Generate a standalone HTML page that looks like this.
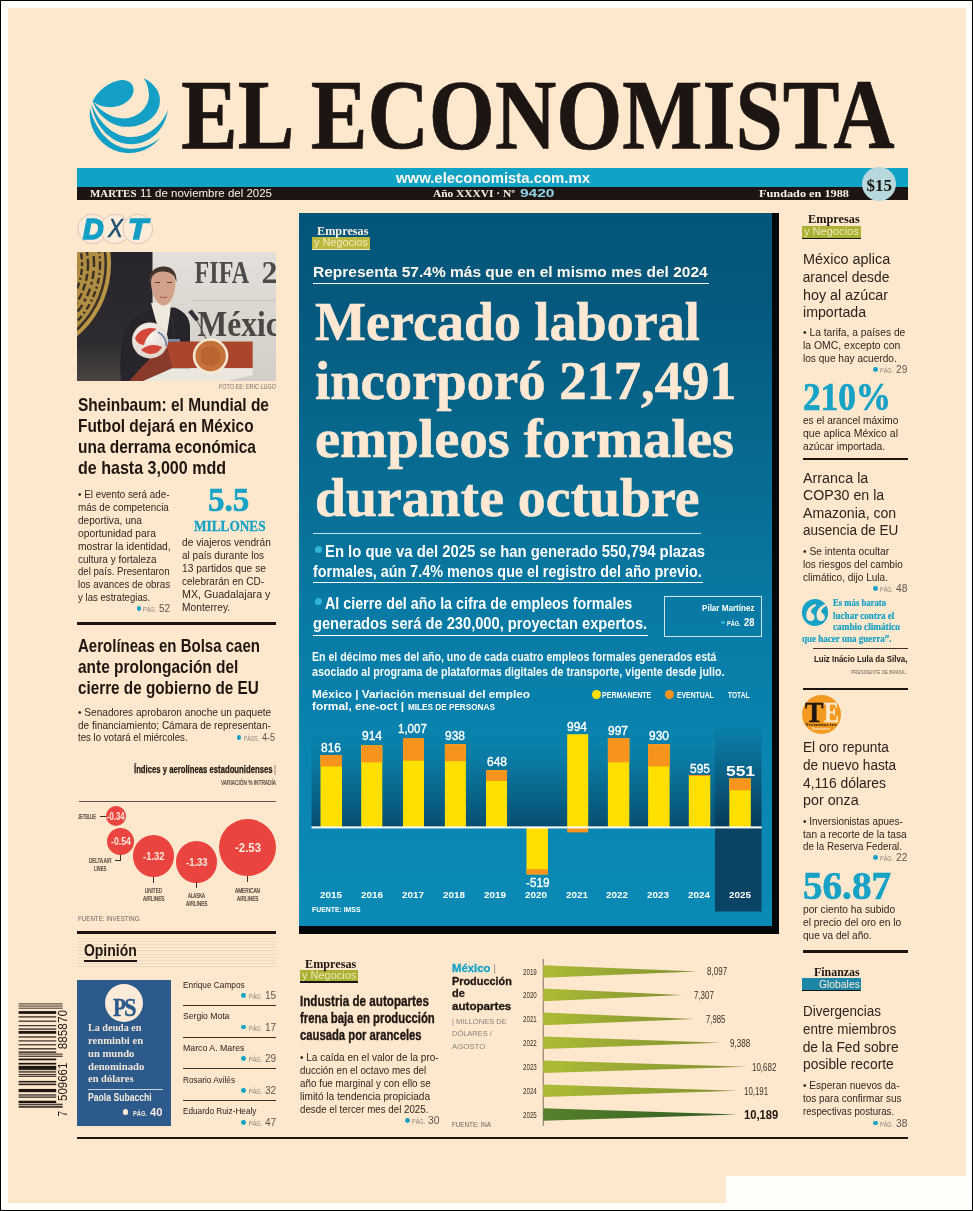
<!DOCTYPE html><html lang="es"><head><meta charset="utf-8"><title>El Economista</title><style>

html,body{margin:0;padding:0;}
body{width:973px;height:1211px;position:relative;overflow:hidden;background:#fffefb;}
.t{position:absolute;white-space:pre;line-height:1;transform-origin:0 0;display:block;}
.bl{display:inline-block;width:0;height:0;}
.r{position:absolute;}
.dot{position:absolute;border-radius:50%;}
svg{position:absolute;overflow:visible;}
svg text{white-space:pre;}


.frame{position:absolute;left:0;top:0;width:971px;height:1209px;border:1px solid #000;background:#fffefb;}
.paper{position:absolute;left:8px;top:8px;width:958px;height:1195px;background:#fde7cd;}
.notch{position:absolute;left:726px;top:1176px;width:245px;height:33px;background:#fffefb;}
.hr{position:absolute;background:#1d1512;}
.waves{background:repeating-linear-gradient(180deg, rgba(120,110,100,0.0) 0, rgba(120,110,100,0.0) 1.6px, rgba(120,110,100,0.11) 1.6px, rgba(120,110,100,0.11) 2.6px, rgba(120,110,100,0) 2.6px, rgba(120,110,100,0) 3.2px);}

</style></head><body>
<div class="frame"></div><div class="paper"></div><div class="notch"></div>
<div class="r" style="left:77px;top:168.4px;width:831px;height:18.5px;background:#11a3c6;"></div>
<div class="r" style="left:77px;top:186.6px;width:831px;height:13.4px;background:#1d1512;"></div>
<div class="dot" style="left:862px;top:167px;width:34px;height:34px;background:#b7d8dc"></div>
<div class="dot" style="left:136.6px;top:605.8px;width:4.8px;height:4.8px;background:#17a2c6"></div>
<div class="r" style="left:77px;top:622px;width:199px;height:2.5px;background:#1d1512;"></div>
<div class="dot" style="left:236.6px;top:735.4px;width:4.8px;height:4.8px;background:#17a2c6"></div>
<div class="r" style="left:79px;top:800.5px;width:197px;height:0.8px;background:#5d544e;"></div>
<div class="r" style="left:77px;top:931.2px;width:199px;height:2.5px;background:#1d1512;"></div>
<div class="dot" style="left:105.7px;top:806.0px;width:20.4px;height:20.4px;background:#e9443f"></div>
<div class="dot" style="left:107.3px;top:827.7px;width:27.2px;height:27.2px;background:#e9443f"></div>
<div class="dot" style="left:132.9px;top:835.4px;width:41.6px;height:41.6px;background:#e9443f"></div>
<div class="dot" style="left:175.7px;top:840.8px;width:41.8px;height:41.8px;background:#e9443f"></div>
<div class="dot" style="left:218.7px;top:818.9px;width:57.6px;height:57.6px;background:#e9443f"></div>
<div class="r" style="left:99.5px;top:815.8px;width:6.5px;height:0.8px;background:#3a302a;"></div>
<div class="r" style="left:115.2px;top:860.2px;width:5px;height:0.8px;background:#3a302a;"></div>
<div class="r" style="left:119.8px;top:854.5px;width:0.8px;height:6.3px;background:#3a302a;"></div>
<div class="r" style="left:153.3px;top:877px;width:0.8px;height:6px;background:#3a302a;"></div>
<div class="r" style="left:196.2px;top:882px;width:0.8px;height:6px;background:#3a302a;"></div>
<div class="r" style="left:247.1px;top:876px;width:0.8px;height:6px;background:#3a302a;"></div>
<div class="r waves" style="left:77px;top:936px;width:199px;height:33px"></div>
<div class="r" style="left:84px;top:959.8px;width:53px;height:2.2px;background:#1d1512;"></div>
<div class="r" style="left:77.4px;top:980px;width:93.6px;height:146px;background:#2b5a8b;"></div>
<div class="dot" style="left:105px;top:983.8px;width:38.4px;height:38.4px;background:#fdebd9"></div>
<div class="r" style="left:87.6px;top:1088.5px;width:75px;height:0.8px;background:#c9d3df;"></div>
<div class="dot" style="left:123.2px;top:1109.4px;width:5.2px;height:5.2px;background:#fdebd9"></div>
<div class="dot" style="left:241.3px;top:992.9px;width:4.8px;height:4.8px;background:#17a2c6"></div>
<div class="dot" style="left:241.3px;top:1024.5px;width:4.8px;height:4.8px;background:#17a2c6"></div>
<div class="dot" style="left:241.3px;top:1056.2px;width:4.8px;height:4.8px;background:#17a2c6"></div>
<div class="dot" style="left:241.3px;top:1087.9px;width:4.8px;height:4.8px;background:#17a2c6"></div>
<div class="dot" style="left:241.3px;top:1120.2px;width:4.8px;height:4.8px;background:#17a2c6"></div>
<div class="r" style="left:182.6px;top:1005.3px;width:93.4px;height:0.8px;background:#3a2f29;"></div>
<div class="r" style="left:182.6px;top:1037.2px;width:93.4px;height:0.8px;background:#3a2f29;"></div>
<div class="r" style="left:182.6px;top:1068.4px;width:93.4px;height:0.8px;background:#3a2f29;"></div>
<div class="r" style="left:182.6px;top:1100px;width:93.4px;height:0.8px;background:#3a2f29;"></div>
<div class="r" style="left:77px;top:1136.8px;width:831px;height:2.5px;background:#1d1512;"></div>
<svg width="973" height="1211" style="left:0;top:0" viewBox="0 0 973 1211"><g fill="#1d1512"><rect x="18.6" y="1003.37" width="44.0" height="1.07" opacity="0.8"/><rect x="18.6" y="1005.52" width="44.0" height="1.07" opacity="0.8"/><rect x="18.6" y="1007.67" width="44.0" height="1.07" opacity="0.8"/><rect x="18.6" y="1011.10" width="37.6" height="2.79" opacity="1"/><rect x="18.6" y="1016.26" width="37.6" height="1.29" opacity="0.9"/><rect x="18.6" y="1020.55" width="37.6" height="1.29" opacity="0.85"/><rect x="18.6" y="1025.06" width="37.6" height="1.18" opacity="0.85"/><rect x="18.6" y="1028.28" width="37.6" height="1.72" opacity="0.7"/><rect x="18.6" y="1030.97" width="37.6" height="2.79" opacity="1"/><rect x="18.6" y="1036.34" width="37.6" height="1.29" opacity="0.9"/><rect x="18.6" y="1040.31" width="37.6" height="1.18" opacity="0.9"/><rect x="18.6" y="1044.17" width="37.6" height="1.18" opacity="0.9"/><rect x="18.6" y="1048.15" width="37.6" height="1.29" opacity="0.9"/><rect x="18.6" y="1051.37" width="37.6" height="1.61" opacity="0.8"/><rect x="18.6" y="1053.51" width="44.0" height="1.18" opacity="0.8"/><rect x="18.6" y="1055.66" width="44.0" height="1.29" opacity="0.8"/><rect x="18.6" y="1058.56" width="37.6" height="1.72" opacity="1"/><rect x="18.6" y="1062.85" width="37.6" height="1.72" opacity="1"/><rect x="18.6" y="1065.86" width="37.6" height="3.97" opacity="1"/><rect x="18.6" y="1070.69" width="37.6" height="2.15" opacity="0.65"/><rect x="18.6" y="1073.91" width="37.6" height="1.18" opacity="0.85"/><rect x="18.6" y="1075.74" width="37.6" height="1.18" opacity="0.85"/><rect x="18.6" y="1080.89" width="37.6" height="1.61" opacity="0.95"/><rect x="18.6" y="1083.58" width="37.6" height="1.61" opacity="0.95"/><rect x="18.6" y="1088.94" width="37.6" height="3.22" opacity="1"/><rect x="18.6" y="1094.31" width="37.6" height="1.29" opacity="0.9"/><rect x="18.6" y="1096.46" width="37.6" height="1.29" opacity="0.9"/><rect x="18.6" y="1100.75" width="37.6" height="2.25" opacity="1"/><rect x="18.6" y="1103.65" width="44.0" height="1.50" opacity="0.8"/><rect x="18.6" y="1105.80" width="44.0" height="2.04" opacity="0.8"/></g><g font-family="'Liberation Sans',sans-serif" font-size="12" fill="#1d1512"><text transform="translate(67,1116.6) rotate(-90)" textLength="5.6" lengthAdjust="spacingAndGlyphs">7</text><text transform="translate(67,1100.9) rotate(-90)" textLength="38.2" lengthAdjust="spacingAndGlyphs">509661</text><text transform="translate(67,1049.3) rotate(-90)" textLength="39.3" lengthAdjust="spacingAndGlyphs">885870</text></g></svg>
<div class="r" style="left:299px;top:213px;width:480px;height:720.5px;background:#050608"></div>
<div class="r" style="left:299px;top:213px;width:473px;height:713px;background:linear-gradient(180deg,#03557a 0%,#06587d 12%,#07698f 33%,#0879a3 54%,#0a84b0 75%,#0b8ab6 100%)"></div>
<div class="r" style="left:311.5px;top:237.1px;width:58.2px;height:11.6px;background:#bbb93e;"></div>
<div class="r" style="left:311.5px;top:248.7px;width:58.2px;height:1.4px;background:#f3ead0;"></div>
<div class="r" style="left:313.3px;top:283px;width:395.4px;height:1px;background:#fff;"></div>
<div class="r" style="left:313.3px;top:533.3px;width:387.7px;height:1px;background:#bfe3ef;"></div>
<div class="dot" style="left:315.2px;top:545.5px;width:7px;height:7px;background:#2fb6d8"></div>
<div class="r" style="left:313.3px;top:582.4px;width:389.5px;height:1px;background:#fff;"></div>
<div class="dot" style="left:315.2px;top:598.2px;width:7px;height:7px;background:#2fb6d8"></div>
<div class="r" style="left:313.3px;top:635.1px;width:334.7px;height:1px;background:#fff;"></div>
<div class="r" style="left:663.8px;top:596.3px;width:96.2px;height:39.2px;border:1px solid #cfe6ee;box-sizing:content-box"></div>
<div class="dot" style="left:721.4px;top:620.7px;width:3.2px;height:3.2px;background:#2fb6d8"></div>
<div class="dot" style="left:591.5px;top:689.5px;width:9px;height:9px;background:#ffe000"></div>
<div class="dot" style="left:665.1px;top:689.5px;width:9px;height:9px;background:#f7941d"></div>
<svg width="973" height="1211" style="left:0;top:0" viewBox="0 0 973 1211"><defs><linearGradient id="sh" x1="0" y1="0" x2="0" y2="1"><stop offset="0" stop-color="#06324e" stop-opacity="0"/><stop offset="0.3" stop-color="#06324e" stop-opacity="0.1"/><stop offset="1" stop-color="#06324e" stop-opacity="0.66"/></linearGradient><linearGradient id="dk" x1="0" y1="0" x2="0" y2="1"><stop offset="0" stop-color="#07324e" stop-opacity="0.0"/><stop offset="0.35" stop-color="#07324e" stop-opacity="0.3"/><stop offset="1" stop-color="#07324e" stop-opacity="0.9"/></linearGradient></defs><rect x="311.5" y="728" width="403.5" height="99" fill="url(#sh)"/><rect x="715" y="722" width="46.5" height="105" fill="url(#dk)"/><rect x="715" y="827" width="46.5" height="84.5" fill="#0a4364"/><rect x="320.5" y="755" width="21.5" height="72.4" fill="#ffdf00"/><rect x="320.5" y="755" width="21.5" height="11.4" fill="#f7941d"/><rect x="361.2" y="745.3" width="21.1" height="82.1" fill="#ffdf00"/><rect x="361.2" y="745.3" width="21.1" height="17.0" fill="#f7941d"/><rect x="403" y="738" width="21.0" height="89.4" fill="#ffdf00"/><rect x="403" y="738" width="21.0" height="22.7" fill="#f7941d"/><rect x="444.9" y="744.2" width="21.0" height="83.2" fill="#ffdf00"/><rect x="444.9" y="744.2" width="21.0" height="17.0" fill="#f7941d"/><rect x="486" y="770.2" width="21.0" height="57.2" fill="#ffdf00"/><rect x="486" y="770.2" width="21.0" height="10.8" fill="#f7941d"/><rect x="567.2" y="734.2" width="21.0" height="93.2" fill="#ffdf00"/><rect x="607.9" y="738" width="21.4" height="89.4" fill="#ffdf00"/><rect x="607.9" y="738" width="21.4" height="24.3" fill="#f7941d"/><rect x="648.1" y="744.2" width="21.5" height="83.2" fill="#ffdf00"/><rect x="648.1" y="744.2" width="21.5" height="22.2" fill="#f7941d"/><rect x="688.8" y="775" width="21.5" height="52.4" fill="#ffdf00"/><rect x="688.8" y="775" width="21.5" height="1.0" fill="#f7941d"/><rect x="729.3" y="778.4" width="21.5" height="49.0" fill="#ffdf00"/><rect x="729.3" y="778.4" width="21.5" height="11.8" fill="#f7941d"/><rect x="526.5" y="827.4" width="21.5" height="47.0" fill="#ffdf00"/><rect x="526.5" y="869.2" width="21.5" height="5.2" fill="#f7941d"/><rect x="567.2" y="827.4" width="21" height="5" fill="#f7941d"/><rect x="311.5" y="826.4" width="450.2" height="2" fill="#fff"/></svg>
<div class="r" style="left:299.5px;top:970px;width:58.3px;height:11.4px;background:#a9b233;"></div>
<div class="r" style="left:299.5px;top:981.4px;width:58.3px;height:1.6px;background:#1d1512;"></div>
<div class="dot" style="left:405.2px;top:1118.3px;width:4.8px;height:4.8px;background:#17a2c6"></div>
<svg width="973" height="1211" style="left:0;top:0" viewBox="0 0 973 1211"><defs><linearGradient id="ol" x1="0" y1="0" x2="1" y2="0"><stop offset="0" stop-color="#adbb35"/><stop offset="1" stop-color="#7f9030"/></linearGradient><linearGradient id="gr" x1="0" y1="0" x2="1" y2="0"><stop offset="0" stop-color="#56802b"/><stop offset="1" stop-color="#2f5a20"/></linearGradient></defs><rect x="542.8" y="959" width="0.8" height="167" fill="#5d544e"/><polygon points="543.2,965.2 697.3,971.5 543.2,977.8" fill="url(#ol)"/><polygon points="543.2,988.6 681.9,994.9 543.2,1001.2" fill="url(#ol)"/><polygon points="543.2,1012.6 694.3,1018.9 543.2,1025.2" fill="url(#ol)"/><polygon points="543.2,1036.4 720.5,1042.7 543.2,1049.0" fill="url(#ol)"/><polygon points="543.2,1060.4 746.7,1066.7 543.2,1073.0" fill="url(#ol)"/><polygon points="543.2,1084.5 737.4,1090.8 543.2,1097.1" fill="url(#ol)"/><polygon points="543.2,1108.2 737.4,1114.5 543.2,1120.8" fill="url(#gr)"/></svg>
<div class="r" style="left:802.2px;top:226px;width:58.7px;height:11.9px;background:#a9b233;"></div>
<div class="r" style="left:802.2px;top:237.9px;width:58.7px;height:1.6px;background:#1d1512;"></div>
<div class="dot" style="left:873.0px;top:367.0px;width:4.8px;height:4.8px;background:#17a2c6"></div>
<div class="r" style="left:802.7px;top:457.8px;width:105.3px;height:2.5px;background:#1d1512;"></div>
<div class="dot" style="left:873.0px;top:586.4px;width:4.8px;height:4.8px;background:#17a2c6"></div>
<div class="dot" style="left:801.8px;top:599.3px;width:26.4px;height:26.4px;background:#17a2c6"></div>
<div class="r" style="left:812.9px;top:647.6px;width:95.1px;height:0.8px;background:#3a2f29;"></div>
<div class="r" style="left:802.7px;top:687.8px;width:105.3px;height:2.5px;background:#1d1512;"></div>
<div class="dot" style="left:801.7px;top:694.8px;width:39.4px;height:39.4px;background:#f39a21"></div>
<div class="dot" style="left:873.0px;top:855.4px;width:4.8px;height:4.8px;background:#17a2c6"></div>
<div class="r" style="left:802.7px;top:950.4px;width:105.3px;height:2.5px;background:#1d1512;"></div>
<div class="r" style="left:802.2px;top:978.3px;width:58.8px;height:11.5px;background:#1b86a6;"></div>
<div class="r" style="left:802.2px;top:989.8px;width:58.8px;height:1.6px;background:#1d1512;"></div>
<div class="dot" style="left:873.0px;top:1120.5px;width:4.8px;height:4.8px;background:#17a2c6"></div>
<svg width="100" height="90" style="left:80px;top:70px" viewBox="0 0 973 876">
<g fill="#14a0c6">
<path d="M122 305 A383 383 0 0 1 400 98 C480 92 532 150 520 212 C505 300 400 362 300 362 C220 362 160 338 122 305Z"/>
<path d="M620 80 C725 130 792 220 776 325 C752 472 600 562 430 552 C300 545 170 440 122 305 C220 420 330 482 452 470 C580 455 682 340 670 230 C665 170 650 120 620 80Z"/>
<path d="M855 385 C832 582 680 722 500 722 C320 722 150 570 108 330 C190 520 330 652 500 652 C660 652 800 540 855 385Z"/>
<path d="M780 660 A383 383 0 0 1 98 370 C140 570 290 745 460 765 C580 778 700 730 780 660Z"/>
</g></svg>
<svg width="100" height="40" style="left:70px;top:209px" viewBox="0 0 100 40">
<g fill="#fdecd9" stroke="#cdb3a6" stroke-width="0.7"><circle cx="22.6" cy="20" r="14.8"/><circle cx="45.2" cy="20" r="14.8"/><circle cx="67.8" cy="20" r="14.8"/></g>
</svg>
<svg width="199" height="129" style="left:77px;top:252px;overflow:hidden" viewBox="0 0 199 129">
<defs>
<linearGradient id="wall" x1="0" y1="0" x2="0" y2="1"><stop offset="0" stop-color="#e3e0db"/><stop offset="0.5" stop-color="#dad7d1"/><stop offset="1" stop-color="#d2cec7"/></linearGradient>
<linearGradient id="dkw" x1="0" y1="0" x2="0" y2="1"><stop offset="0" stop-color="#27252b"/><stop offset="0.7" stop-color="#2e2c30"/><stop offset="1" stop-color="#4a4541"/></linearGradient>
<radialGradient id="ball" cx="0.45" cy="0.35" r="0.8"><stop offset="0" stop-color="#fbf6f0"/><stop offset="1" stop-color="#d9cdc4"/></radialGradient>
<clipPath id="pc"><rect x="0" y="0" width="199" height="129"/></clipPath>
</defs>
<g clip-path="url(#pc)">
<rect x="0" y="0" width="199" height="129" fill="url(#wall)"/>
<rect x="0" y="0" width="75.5" height="129" fill="url(#dkw)"/>
<circle cx="-60" cy="12" r="94" fill="#b99545"/>
<circle cx="-60" cy="12" r="90" fill="#3a3228"/>
<circle cx="-60" cy="12" r="87.5" fill="#b08d43"/>
<g fill="none" stroke="#3a3026">
<circle cx="-60" cy="12" r="83" stroke-width="2.4" stroke-dasharray="6 3 2 3"/>
<circle cx="-60" cy="12" r="77" stroke-width="2.4" stroke-dasharray="3 4 8 3"/>
<circle cx="-60" cy="12" r="71" stroke-width="2.4" stroke-dasharray="7 3"/>
<circle cx="-60" cy="12" r="65" stroke-width="2.4" stroke-dasharray="2 3 6 3"/>
<circle cx="-60" cy="12" r="59" stroke-width="2.4" stroke-dasharray="5 4"/>
</g>
<text x="117.6" y="31.3" font-family="'Liberation Serif',serif" font-weight="700" font-size="32" fill="#4d4b49" textLength="54.5" lengthAdjust="spacingAndGlyphs">FIFA</text>
<text x="184.6" y="31.3" font-family="'Liberation Serif',serif" font-weight="700" font-size="32" fill="#4d4b49">20</text>
<rect x="115" y="48" width="85" height="0.8" fill="#c6c2bc"/>
<text x="120.5" y="83.9" font-family="'Liberation Serif',serif" font-weight="700" font-size="35.5" fill="#4a4743" textLength="98" lengthAdjust="spacingAndGlyphs">México</text>
<!-- jacket -->
<path d="M44 129 C42 104 44 84 52 72 C58 64 68 60 76 55.5 L98 55.5 C108 60 113 66 113 76 L113 129 Z" fill="#27252b"/>
<!-- turtleneck -->
<path d="M74 51 L94 51 L93 62 L90 82 L84 84 L78 66 Z" fill="#efe8dc"/>
<!-- hair -->
<path d="M72 32 C71 19 79 14.5 87 14.5 C95 14.5 100 20 99.5 30 L97 24 C92 20 82 20 76 24 Z" fill="#43342c"/>
<!-- face -->
<path d="M74 30 C74 22 80 19.5 86.5 19.5 C93 19.5 98.5 23 98.5 31 C98.5 40 94 53.5 86.5 53.5 C79.5 53.5 74 40 74 30 Z" fill="#d2a189"/>
<path d="M78 30.5 h5 M90 30.5 h5" stroke="#5a4036" stroke-width="1.1"/>
<path d="M83 45 q3.5 1.6 7 0" stroke="#a0564a" stroke-width="1" fill="none"/>
<!-- mic -->
<path d="M111 60 L115 57.5 L122 67 L119 69.5 Z" fill="#343136"/>
<path d="M120 68 L130 89" stroke="#55504f" stroke-width="1" fill="none"/>
<path d="M95 66 L98 88" stroke="#3a3638" stroke-width="0.9" fill="none"/>
<!-- podium -->
<path d="M88.4 89.5 L175.7 89.5 L175.7 116.2 L95 116.2 Z" fill="#ab462d"/>
<path d="M88.4 89.5 L95 116.2 L66 129 L52 129 Z" fill="#8a3a29"/>
<path d="M95 116.2 L175.7 116.2 L175.7 123 L150 129 L66 129 Z" fill="#ebe6de"/>
<rect x="90" y="87" width="13" height="2.8" fill="#7b8aa0"/>
<!-- podium emblem -->
<circle cx="133.6" cy="104" r="17.8" fill="#f5e9d6"/>
<circle cx="133.6" cy="104" r="15.2" fill="#c4713a"/>
<circle cx="133.6" cy="104" r="10" fill="#b9652f"/>
<!-- ball -->
<circle cx="73" cy="88.4" r="18" fill="url(#ball)"/>
<path d="M58 86 C62 77 72 74 80 77 C74 80 69 85 67 93 C63 93 59 90 58 86 Z" fill="#d4483a"/>
<path d="M64 98 C70 92 79 92 85 95 C82 102 72 105 64 98 Z" fill="#d4483a"/>
<path d="M81 80 C87 83 90 89 89 94" stroke="#6a84ae" stroke-width="1.6" fill="none"/>
</g></svg>
<span class="t" style="left:181.00px;top:65.00px;font-family:'Liberation Serif',serif;font-size:100px;color:#1d1512;font-weight:700;-webkit-text-stroke:0.7px #1d1512;transform:scaleX(0.8494);">EL ECONOMISTA</span>
<span class="t" style="left:395.50px;top:169.90px;font-family:'Liberation Sans',sans-serif;font-size:15px;color:#fdf6ee;font-weight:700;transform:scaleX(0.9931);">www.eleconomista.com.mx</span>
<span class="t" style="left:90.00px;top:188.30px;font-family:'Liberation Serif',serif;font-size:10.8px;color:#fbf1e6;font-weight:700;transform:scaleX(1.0147);">MARTES</span>
<span class="t" style="left:140.00px;top:187.30px;font-family:'Liberation Sans',sans-serif;font-size:11.6px;color:#fbf1e6;transform:scaleX(0.9909);">11 de noviembre del 2025</span>
<span class="t" style="left:432.50px;top:188.30px;font-family:'Liberation Serif',serif;font-size:10.8px;color:#fbf1e6;font-weight:700;transform:scaleX(1.0559);">Año XXXVI · Nº</span>
<span class="t" style="left:519.50px;top:188.30px;font-family:'Liberation Sans',sans-serif;font-size:10.8px;color:#8fd6ea;font-weight:700;transform:scaleX(1.4356);">9420</span>
<span class="t" style="left:759.00px;top:188.30px;font-family:'Liberation Serif',serif;font-size:10.8px;color:#fbf1e6;font-weight:700;transform:scaleX(1.1363);">Fundado en 1988</span>
<span class="t" style="left:866.50px;top:176.50px;font-family:'Liberation Serif',serif;font-size:17px;color:#1d1512;font-weight:700;">$15</span>
<span class="t" style="left:219.00px;top:383.60px;font-family:'Liberation Sans',sans-serif;font-size:6.4px;color:#7a716b;transform:scaleX(0.8553);">FOTO EE: ERIC LUGO</span>
<span class="t" style="left:78.00px;top:397.20px;font-family:'Liberation Sans',sans-serif;font-size:17.8px;color:#1f1612;font-weight:700;transform:scaleX(0.8708);">Sheinbaum: el Mundial de</span>
<span class="t" style="left:78.00px;top:418.30px;font-family:'Liberation Sans',sans-serif;font-size:17.8px;color:#1f1612;font-weight:700;transform:scaleX(0.8669);">Futbol dejará en México</span>
<span class="t" style="left:78.00px;top:439.30px;font-family:'Liberation Sans',sans-serif;font-size:17.8px;color:#1f1612;font-weight:700;transform:scaleX(0.8696);">una derrama económica</span>
<span class="t" style="left:78.00px;top:459.90px;font-family:'Liberation Sans',sans-serif;font-size:17.8px;color:#1f1612;font-weight:700;transform:scaleX(0.9021);">de hasta 3,000 mdd</span>
<span class="t" style="left:78.00px;top:489.10px;font-family:'Liberation Sans',sans-serif;font-size:10.6px;color:#30261f;transform:scaleX(0.9286);">• El evento será ade-</span>
<span class="t" style="left:78.00px;top:502.00px;font-family:'Liberation Sans',sans-serif;font-size:10.6px;color:#30261f;transform:scaleX(0.9289);">más de competencia</span>
<span class="t" style="left:78.00px;top:514.90px;font-family:'Liberation Sans',sans-serif;font-size:10.6px;color:#30261f;transform:scaleX(0.9530);">deportiva, una</span>
<span class="t" style="left:78.00px;top:527.80px;font-family:'Liberation Sans',sans-serif;font-size:10.6px;color:#30261f;transform:scaleX(0.9737);">oportunidad para</span>
<span class="t" style="left:78.00px;top:540.60px;font-family:'Liberation Sans',sans-serif;font-size:10.6px;color:#30261f;transform:scaleX(0.9647);">mostrar la identidad,</span>
<span class="t" style="left:78.00px;top:553.50px;font-family:'Liberation Sans',sans-serif;font-size:10.6px;color:#30261f;transform:scaleX(0.9399);">cultura y fortaleza</span>
<span class="t" style="left:78.00px;top:566.40px;font-family:'Liberation Sans',sans-serif;font-size:10.6px;color:#30261f;transform:scaleX(0.9086);">del país. Presentaron</span>
<span class="t" style="left:78.00px;top:579.30px;font-family:'Liberation Sans',sans-serif;font-size:10.6px;color:#30261f;transform:scaleX(0.9189);">los avances de obras</span>
<span class="t" style="left:78.00px;top:592.20px;font-family:'Liberation Sans',sans-serif;font-size:10.6px;color:#30261f;transform:scaleX(0.9094);">y las estrategias.</span>
<span class="t" style="left:142.80px;top:606.80px;font-family:'Liberation Sans',sans-serif;font-size:6.5px;color:#8a8079;transform:scaleX(0.8362);">PÁG.</span>
<span class="t" style="left:158.80px;top:602.80px;font-family:'Liberation Sans',sans-serif;font-size:11.5px;color:#5d544e;transform:scaleX(0.8752);">52</span>
<span class="t" style="left:208.30px;top:482.50px;font-family:'Liberation Serif',serif;font-size:33.5px;color:#17a2c6;font-weight:700;-webkit-text-stroke:0.6px #17a2c6;transform:scaleX(0.9887);">5.5</span>
<span class="t" style="left:194.00px;top:519.00px;font-family:'Liberation Serif',serif;font-size:15px;color:#17a2c6;font-weight:700;-webkit-text-stroke:0.3px #17a2c6;transform:scaleX(0.8855);">MILLONES</span>
<span class="t" style="left:182.40px;top:537.00px;font-family:'Liberation Sans',sans-serif;font-size:10.6px;color:#30261f;transform:scaleX(0.9603);">de viajeros vendrán</span>
<span class="t" style="left:182.40px;top:549.90px;font-family:'Liberation Sans',sans-serif;font-size:10.6px;color:#30261f;transform:scaleX(0.9471);">al país durante los</span>
<span class="t" style="left:182.40px;top:562.80px;font-family:'Liberation Sans',sans-serif;font-size:10.6px;color:#30261f;transform:scaleX(0.9625);">13 partidos que se</span>
<span class="t" style="left:182.40px;top:575.70px;font-family:'Liberation Sans',sans-serif;font-size:10.6px;color:#30261f;transform:scaleX(0.9473);">celebrarán en CD-</span>
<span class="t" style="left:182.40px;top:588.60px;font-family:'Liberation Sans',sans-serif;font-size:10.6px;color:#30261f;transform:scaleX(1.0074);">MX, Guadalajara y</span>
<span class="t" style="left:182.40px;top:601.50px;font-family:'Liberation Sans',sans-serif;font-size:10.6px;color:#30261f;transform:scaleX(0.9647);">Monterrey.</span>
<span class="t" style="left:78.00px;top:637.70px;font-family:'Liberation Sans',sans-serif;font-size:17.8px;color:#1f1612;font-weight:700;transform:scaleX(0.8447);">Aerolíneas en Bolsa caen</span>
<span class="t" style="left:78.00px;top:658.50px;font-family:'Liberation Sans',sans-serif;font-size:17.8px;color:#1f1612;font-weight:700;transform:scaleX(0.8682);">ante prolongación del</span>
<span class="t" style="left:78.00px;top:679.50px;font-family:'Liberation Sans',sans-serif;font-size:17.8px;color:#1f1612;font-weight:700;transform:scaleX(0.8590);">cierre de gobierno de EU</span>
<span class="t" style="left:78.00px;top:706.60px;font-family:'Liberation Sans',sans-serif;font-size:10.6px;color:#30261f;transform:scaleX(0.9527);">• Senadores aprobaron anoche un paquete</span>
<span class="t" style="left:78.00px;top:719.50px;font-family:'Liberation Sans',sans-serif;font-size:10.6px;color:#30261f;transform:scaleX(0.9435);">de financiamiento; Cámara de representan-</span>
<span class="t" style="left:78.00px;top:732.40px;font-family:'Liberation Sans',sans-serif;font-size:10.6px;color:#30261f;transform:scaleX(0.9124);">tes lo votará el miércoles.</span>
<span class="t" style="left:244.30px;top:736.40px;font-family:'Liberation Sans',sans-serif;font-size:6.5px;color:#8a8079;transform:scaleX(0.7547);">PÁGS.</span>
<span class="t" style="left:262.30px;top:732.40px;font-family:'Liberation Sans',sans-serif;font-size:11.5px;color:#5d544e;transform:scaleX(0.7820);">4-5</span>
<span class="t" style="left:134.00px;top:763.60px;font-family:'Liberation Sans',sans-serif;font-size:11px;color:#1f1612;font-weight:700;-webkit-text-stroke:0.25px #1f1612;transform:scaleX(0.7014);">Índices y aerolíneas estadounidenses</span>
<span class="t" style="left:274.00px;top:763.60px;font-family:'Liberation Sans',sans-serif;font-size:11px;color:#5d544e;transform:scaleX(0.6995);">|</span>
<span class="t" style="left:220.80px;top:778.60px;font-family:'Liberation Sans',sans-serif;font-size:7.6px;color:#3a302a;-webkit-text-stroke:0.15px #3a302a;transform:scaleX(0.6277);">VARIACIÓN % INTRADÍA</span>
<span class="t" style="left:78.00px;top:915.70px;font-family:'Liberation Sans',sans-serif;font-size:6.8px;color:#6d645e;transform:scaleX(0.9111);">FUENTE: INVESTING</span>
<span class="t" style="left:107.15px;top:810.98px;font-family:'Liberation Sans',sans-serif;font-size:10.5px;color:#fde9dc;font-weight:700;transform:scaleX(0.7311);">-0.34</span>
<span class="t" style="left:110.90px;top:836.08px;font-family:'Liberation Sans',sans-serif;font-size:10.5px;color:#fde9dc;font-weight:700;transform:scaleX(0.8355);">-0.54</span>
<span class="t" style="left:142.95px;top:851.34px;font-family:'Liberation Sans',sans-serif;font-size:11.5px;color:#fde9dc;font-weight:700;transform:scaleX(0.8200);">-1.32</span>
<span class="t" style="left:185.85px;top:856.84px;font-family:'Liberation Sans',sans-serif;font-size:11.5px;color:#fde9dc;font-weight:700;transform:scaleX(0.8200);">-1.33</span>
<span class="t" style="left:234.50px;top:841.38px;font-family:'Liberation Sans',sans-serif;font-size:13px;color:#fde9dc;font-weight:700;transform:scaleX(0.8772);">-2.53</span>
<span class="t" style="left:78.00px;top:812.60px;font-family:'Liberation Sans',sans-serif;font-size:7.8px;color:#3a302a;-webkit-text-stroke:0.2px #3a302a;transform:scaleX(0.5258);">JETBLUE</span>
<span class="t" style="left:89.25px;top:857.20px;font-family:'Liberation Sans',sans-serif;font-size:7.8px;color:#3a302a;-webkit-text-stroke:0.2px #3a302a;transform:scaleX(0.5878);">DELTA AIR</span>
<span class="t" style="left:94.25px;top:865.20px;font-family:'Liberation Sans',sans-serif;font-size:7.8px;color:#3a302a;-webkit-text-stroke:0.2px #3a302a;transform:scaleX(0.5544);">LINES</span>
<span class="t" style="left:145.20px;top:886.90px;font-family:'Liberation Sans',sans-serif;font-size:7.8px;color:#3a302a;-webkit-text-stroke:0.2px #3a302a;transform:scaleX(0.5856);">UNITED</span>
<span class="t" style="left:142.95px;top:894.80px;font-family:'Liberation Sans',sans-serif;font-size:7.8px;color:#3a302a;-webkit-text-stroke:0.2px #3a302a;transform:scaleX(0.6048);">AIRLINES</span>
<span class="t" style="left:188.10px;top:891.90px;font-family:'Liberation Sans',sans-serif;font-size:7.8px;color:#3a302a;-webkit-text-stroke:0.2px #3a302a;transform:scaleX(0.5602);">ALASKA</span>
<span class="t" style="left:185.85px;top:899.80px;font-family:'Liberation Sans',sans-serif;font-size:7.8px;color:#3a302a;-webkit-text-stroke:0.2px #3a302a;transform:scaleX(0.6048);">AIRLINES</span>
<span class="t" style="left:235.00px;top:886.90px;font-family:'Liberation Sans',sans-serif;font-size:7.8px;color:#3a302a;-webkit-text-stroke:0.2px #3a302a;transform:scaleX(0.6074);">AMERICAN</span>
<span class="t" style="left:236.75px;top:894.80px;font-family:'Liberation Sans',sans-serif;font-size:7.8px;color:#3a302a;-webkit-text-stroke:0.2px #3a302a;transform:scaleX(0.6048);">AIRLINES</span>
<span class="t" style="left:84.00px;top:942.70px;font-family:'Liberation Sans',sans-serif;font-size:16px;color:#1f1612;font-weight:700;transform:scaleX(0.8720);">Opinión</span>
<span class="t" style="left:113.30px;top:995.20px;font-family:'Liberation Serif',serif;font-size:26px;color:#2b5a8b;font-weight:700;-webkit-text-stroke:0.4px #2b5a8b;transform:scaleX(0.8181);">P</span>
<span class="t" style="left:124.00px;top:995.20px;font-family:'Liberation Serif',serif;font-size:26px;color:#2b5a8b;font-weight:700;-webkit-text-stroke:0.4px #2b5a8b;transform:scaleX(0.8639);">S</span>
<span class="t" style="left:87.60px;top:1021.50px;font-family:'Liberation Serif',serif;font-size:11px;color:#f3e6d8;font-weight:700;transform:scaleX(0.9195);">La deuda en</span>
<span class="t" style="left:87.60px;top:1034.70px;font-family:'Liberation Serif',serif;font-size:11px;color:#f3e6d8;font-weight:700;transform:scaleX(0.9675);">renminbi en</span>
<span class="t" style="left:87.60px;top:1047.50px;font-family:'Liberation Serif',serif;font-size:11px;color:#f3e6d8;font-weight:700;transform:scaleX(0.9664);">un mundo</span>
<span class="t" style="left:87.60px;top:1060.90px;font-family:'Liberation Serif',serif;font-size:11px;color:#f3e6d8;font-weight:700;transform:scaleX(0.9694);">denominado</span>
<span class="t" style="left:87.60px;top:1073.30px;font-family:'Liberation Serif',serif;font-size:11px;color:#f3e6d8;font-weight:700;transform:scaleX(0.9543);">en dólares</span>
<span class="t" style="left:87.60px;top:1092.30px;font-family:'Liberation Sans',sans-serif;font-size:10.5px;color:#f7ece0;font-weight:700;transform:scaleX(0.8206);">Paola Subacchi</span>
<span class="t" style="left:133.10px;top:1110.60px;font-family:'Liberation Sans',sans-serif;font-size:6.5px;color:#f7ece0;font-weight:700;transform:scaleX(0.8802);">PÁG.</span>
<span class="t" style="left:150.10px;top:1106.60px;font-family:'Liberation Sans',sans-serif;font-size:11.5px;color:#f7ece0;font-weight:700;transform:scaleX(0.9768);">40</span>
<span class="t" style="left:182.60px;top:979.60px;font-family:'Liberation Sans',sans-serif;font-size:9.8px;color:#2c231e;transform:scaleX(0.8454);">Enrique Campos</span>
<span class="t" style="left:248.60px;top:993.90px;font-family:'Liberation Sans',sans-serif;font-size:6.5px;color:#8a8079;transform:scaleX(0.8362);">PÁG.</span>
<span class="t" style="left:264.60px;top:989.90px;font-family:'Liberation Sans',sans-serif;font-size:11.5px;color:#5d544e;transform:scaleX(0.8752);">15</span>
<span class="t" style="left:182.60px;top:1011.20px;font-family:'Liberation Sans',sans-serif;font-size:9.8px;color:#2c231e;transform:scaleX(0.8783);">Sergio Mota</span>
<span class="t" style="left:248.60px;top:1025.50px;font-family:'Liberation Sans',sans-serif;font-size:6.5px;color:#8a8079;transform:scaleX(0.8362);">PÁG.</span>
<span class="t" style="left:264.60px;top:1021.50px;font-family:'Liberation Sans',sans-serif;font-size:11.5px;color:#5d544e;transform:scaleX(0.8752);">17</span>
<span class="t" style="left:182.60px;top:1042.90px;font-family:'Liberation Sans',sans-serif;font-size:9.8px;color:#2c231e;transform:scaleX(0.8949);">Marco A. Mares</span>
<span class="t" style="left:248.60px;top:1057.20px;font-family:'Liberation Sans',sans-serif;font-size:6.5px;color:#8a8079;transform:scaleX(0.8362);">PÁG.</span>
<span class="t" style="left:264.60px;top:1053.20px;font-family:'Liberation Sans',sans-serif;font-size:11.5px;color:#5d544e;transform:scaleX(0.8752);">29</span>
<span class="t" style="left:182.60px;top:1074.50px;font-family:'Liberation Sans',sans-serif;font-size:9.8px;color:#2c231e;transform:scaleX(0.8400);">Rosario Avilés</span>
<span class="t" style="left:248.60px;top:1088.90px;font-family:'Liberation Sans',sans-serif;font-size:6.5px;color:#8a8079;transform:scaleX(0.8362);">PÁG.</span>
<span class="t" style="left:264.60px;top:1084.90px;font-family:'Liberation Sans',sans-serif;font-size:11.5px;color:#5d544e;transform:scaleX(0.8752);">32</span>
<span class="t" style="left:182.60px;top:1106.40px;font-family:'Liberation Sans',sans-serif;font-size:9.8px;color:#2c231e;transform:scaleX(0.8372);">Eduardo Ruiz-Healy</span>
<span class="t" style="left:248.60px;top:1121.20px;font-family:'Liberation Sans',sans-serif;font-size:6.5px;color:#8a8079;transform:scaleX(0.8362);">PÁG.</span>
<span class="t" style="left:264.60px;top:1117.20px;font-family:'Liberation Sans',sans-serif;font-size:11.5px;color:#5d544e;transform:scaleX(0.8752);">47</span>
<span class="t" style="left:317.00px;top:226.00px;font-family:'Liberation Serif',serif;font-size:11.5px;color:#fdf1e4;font-weight:700;transform:scaleX(1.0649);">Empresas</span>
<span class="t" style="left:313.50px;top:238.40px;font-family:'Liberation Sans',sans-serif;font-size:10px;color:#f3e9c0;transform:scaleX(1.0916);">y Negocios</span>
<span class="t" style="left:313.30px;top:265.00px;font-family:'Liberation Sans',sans-serif;font-size:14.3px;color:#fff8ee;font-weight:700;transform:scaleX(1.0844);">Representa 57.4% más que en el mismo mes del 2024</span>
<span class="t" style="left:315.30px;top:295.20px;font-family:'Liberation Serif',serif;font-size:54.5px;color:#fde8d4;font-weight:700;-webkit-text-stroke:0.6px #fde8d4;transform:scaleX(0.9915);">Mercado laboral</span>
<span class="t" style="left:315.30px;top:353.50px;font-family:'Liberation Serif',serif;font-size:54.5px;color:#fde8d4;font-weight:700;-webkit-text-stroke:0.6px #fde8d4;transform:scaleX(1.0020);">incorporó 217,491</span>
<span class="t" style="left:315.30px;top:412.00px;font-family:'Liberation Serif',serif;font-size:54.5px;color:#fde8d4;font-weight:700;-webkit-text-stroke:0.6px #fde8d4;transform:scaleX(1.0371);">empleos formales</span>
<span class="t" style="left:315.30px;top:470.70px;font-family:'Liberation Serif',serif;font-size:54.5px;color:#fde8d4;font-weight:700;-webkit-text-stroke:0.6px #fde8d4;transform:scaleX(1.0227);">durante octubre</span>
<span class="t" style="left:325.00px;top:543.00px;font-family:'Liberation Sans',sans-serif;font-size:17px;color:#fff;font-weight:700;transform:scaleX(0.8743);">En lo que va del 2025 se han generado 550,794 plazas</span>
<span class="t" style="left:313.30px;top:562.80px;font-family:'Liberation Sans',sans-serif;font-size:17px;color:#fff;font-weight:700;transform:scaleX(0.8448);">formales, aún 7.4% menos que el registro del año previo.</span>
<span class="t" style="left:325.00px;top:595.20px;font-family:'Liberation Sans',sans-serif;font-size:17px;color:#fff;font-weight:700;transform:scaleX(0.8404);">Al cierre del año la cifra de empleos formales</span>
<span class="t" style="left:313.30px;top:615.00px;font-family:'Liberation Sans',sans-serif;font-size:17px;color:#fff;font-weight:700;transform:scaleX(0.8626);">generados será de 230,000, proyectan expertos.</span>
<span class="t" style="left:701.70px;top:603.50px;font-family:'Liberation Sans',sans-serif;font-size:8.5px;color:#fff;font-weight:700;transform:scaleX(0.9497);">Pilar Martínez</span>
<span class="t" style="left:727.20px;top:620.90px;font-family:'Liberation Sans',sans-serif;font-size:6.5px;color:#fff;font-weight:700;transform:scaleX(0.8550);">PÁG.</span>
<span class="t" style="left:743.80px;top:616.90px;font-family:'Liberation Sans',sans-serif;font-size:10.5px;color:#fff;font-weight:700;transform:scaleX(0.8898);">28</span>
<span class="t" style="left:311.50px;top:651.50px;font-family:'Liberation Sans',sans-serif;font-size:11.9px;color:#fff;font-weight:700;opacity:0.97;transform:scaleX(0.8871);">En el décimo mes del año, uno de cada cuatro empleos formales generados está</span>
<span class="t" style="left:311.50px;top:666.80px;font-family:'Liberation Sans',sans-serif;font-size:11.9px;color:#fff;font-weight:700;opacity:0.97;transform:scaleX(0.8995);">asociado al programa de plataformas digitales de transporte, vigente desde julio.</span>
<span class="t" style="left:311.50px;top:688.90px;font-family:'Liberation Sans',sans-serif;font-size:10.7px;color:#fff;font-weight:700;transform:scaleX(1.1021);">México | Variación mensual del empleo</span>
<span class="t" style="left:311.50px;top:701.40px;font-family:'Liberation Sans',sans-serif;font-size:10.7px;color:#fff;font-weight:700;transform:scaleX(1.1141);">formal, ene-oct |</span>
<span class="t" style="left:408.00px;top:704.40px;font-family:'Liberation Sans',sans-serif;font-size:8.2px;color:#fff;font-weight:700;">MILES DE PERSONAS</span>
<span class="t" style="left:602.30px;top:690.60px;font-family:'Liberation Sans',sans-serif;font-size:8.6px;color:#fff;font-weight:700;transform:scaleX(0.8193);">PERMANENTE</span>
<span class="t" style="left:676.90px;top:690.60px;font-family:'Liberation Sans',sans-serif;font-size:8.6px;color:#fff;font-weight:700;transform:scaleX(0.7943);">EVENTUAL</span>
<span class="t" style="left:728.20px;top:690.60px;font-family:'Liberation Sans',sans-serif;font-size:8.6px;color:#fff;font-weight:700;transform:scaleX(0.7717);">TOTAL</span>
<span class="t" style="left:321.20px;top:741.60px;font-family:'Liberation Sans',sans-serif;font-size:12.2px;color:#fff;-webkit-text-stroke:0.35px #fff;transform:scaleX(0.9831);">816</span>
<span class="t" style="left:361.80px;top:730.00px;font-family:'Liberation Sans',sans-serif;font-size:12.2px;color:#fff;-webkit-text-stroke:0.35px #fff;transform:scaleX(0.9831);">914</span>
<span class="t" style="left:398.00px;top:722.80px;font-family:'Liberation Sans',sans-serif;font-size:12.2px;color:#fff;-webkit-text-stroke:0.35px #fff;transform:scaleX(0.9443);">1,007</span>
<span class="t" style="left:445.00px;top:730.00px;font-family:'Liberation Sans',sans-serif;font-size:12.2px;color:#fff;-webkit-text-stroke:0.35px #fff;transform:scaleX(0.9831);">938</span>
<span class="t" style="left:486.50px;top:756.30px;font-family:'Liberation Sans',sans-serif;font-size:12.2px;color:#fff;-webkit-text-stroke:0.35px #fff;transform:scaleX(0.9831);">648</span>
<span class="t" style="left:526.05px;top:876.90px;font-family:'Liberation Sans',sans-serif;font-size:12.2px;color:#fff;-webkit-text-stroke:0.35px #fff;transform:scaleX(0.9629);">-519</span>
<span class="t" style="left:567.30px;top:720.90px;font-family:'Liberation Sans',sans-serif;font-size:12.2px;color:#fff;-webkit-text-stroke:0.35px #fff;transform:scaleX(0.9831);">994</span>
<span class="t" style="left:608.00px;top:724.70px;font-family:'Liberation Sans',sans-serif;font-size:12.2px;color:#fff;-webkit-text-stroke:0.35px #fff;transform:scaleX(0.9831);">997</span>
<span class="t" style="left:648.70px;top:730.40px;font-family:'Liberation Sans',sans-serif;font-size:12.2px;color:#fff;-webkit-text-stroke:0.35px #fff;transform:scaleX(0.9831);">930</span>
<span class="t" style="left:689.50px;top:762.50px;font-family:'Liberation Sans',sans-serif;font-size:12.2px;color:#fff;-webkit-text-stroke:0.35px #fff;transform:scaleX(0.9831);">595</span>
<span class="t" style="left:726.00px;top:762.60px;font-family:'Liberation Sans',sans-serif;font-size:15.5px;color:#fff;font-weight:700;transform:scaleX(1.1208);">551</span>
<span class="t" style="left:320.30px;top:891.00px;font-family:'Liberation Sans',sans-serif;font-size:8.8px;color:#fff;font-weight:700;transform:scaleX(1.1237);">2015</span>
<span class="t" style="left:361.17px;top:891.00px;font-family:'Liberation Sans',sans-serif;font-size:8.8px;color:#fff;font-weight:700;transform:scaleX(1.1237);">2016</span>
<span class="t" style="left:402.04px;top:891.00px;font-family:'Liberation Sans',sans-serif;font-size:8.8px;color:#fff;font-weight:700;transform:scaleX(1.1237);">2017</span>
<span class="t" style="left:442.91px;top:891.00px;font-family:'Liberation Sans',sans-serif;font-size:8.8px;color:#fff;font-weight:700;transform:scaleX(1.1237);">2018</span>
<span class="t" style="left:483.78px;top:891.00px;font-family:'Liberation Sans',sans-serif;font-size:8.8px;color:#fff;font-weight:700;transform:scaleX(1.1237);">2019</span>
<span class="t" style="left:524.65px;top:891.00px;font-family:'Liberation Sans',sans-serif;font-size:8.8px;color:#fff;font-weight:700;transform:scaleX(1.1237);">2020</span>
<span class="t" style="left:565.52px;top:891.00px;font-family:'Liberation Sans',sans-serif;font-size:8.8px;color:#fff;font-weight:700;transform:scaleX(1.1237);">2021</span>
<span class="t" style="left:606.39px;top:891.00px;font-family:'Liberation Sans',sans-serif;font-size:8.8px;color:#fff;font-weight:700;transform:scaleX(1.1237);">2022</span>
<span class="t" style="left:647.26px;top:891.00px;font-family:'Liberation Sans',sans-serif;font-size:8.8px;color:#fff;font-weight:700;transform:scaleX(1.1237);">2023</span>
<span class="t" style="left:688.13px;top:891.00px;font-family:'Liberation Sans',sans-serif;font-size:8.8px;color:#fff;font-weight:700;transform:scaleX(1.1237);">2024</span>
<span class="t" style="left:729.00px;top:891.00px;font-family:'Liberation Sans',sans-serif;font-size:8.8px;color:#fff;font-weight:700;transform:scaleX(1.1237);">2025</span>
<span class="t" style="left:311.50px;top:906.70px;font-family:'Liberation Sans',sans-serif;font-size:6.8px;color:#fff;font-weight:700;transform:scaleX(1.0111);">FUENTE: IMSS</span>
<span class="t" style="left:305.40px;top:958.60px;font-family:'Liberation Serif',serif;font-size:11.5px;color:#1f1612;font-weight:700;transform:scaleX(1.0608);">Empresas</span>
<span class="t" style="left:301.50px;top:971.20px;font-family:'Liberation Sans',sans-serif;font-size:10px;color:#f1e6b8;transform:scaleX(1.0977);">y Negocios</span>
<span class="t" style="left:299.50px;top:993.60px;font-family:'Liberation Sans',sans-serif;font-size:14.8px;color:#1f1612;font-weight:700;-webkit-text-stroke:0.35px #1f1612;transform:scaleX(0.7878);">Industria de autopartes</span>
<span class="t" style="left:299.50px;top:1010.50px;font-family:'Liberation Sans',sans-serif;font-size:14.8px;color:#1f1612;font-weight:700;-webkit-text-stroke:0.35px #1f1612;transform:scaleX(0.7661);">frena baja en producción</span>
<span class="t" style="left:299.50px;top:1028.20px;font-family:'Liberation Sans',sans-serif;font-size:14.8px;color:#1f1612;font-weight:700;-webkit-text-stroke:0.35px #1f1612;transform:scaleX(0.7620);">causada por aranceles</span>
<span class="t" style="left:299.50px;top:1052.00px;font-family:'Liberation Sans',sans-serif;font-size:10.6px;color:#30261f;transform:scaleX(0.9441);">• La caída en el valor de la pro-</span>
<span class="t" style="left:299.50px;top:1064.90px;font-family:'Liberation Sans',sans-serif;font-size:10.6px;color:#30261f;transform:scaleX(0.9237);">ducción en el octavo mes del</span>
<span class="t" style="left:299.50px;top:1077.70px;font-family:'Liberation Sans',sans-serif;font-size:10.6px;color:#30261f;transform:scaleX(0.9286);">año fue marginal y con ello se</span>
<span class="t" style="left:299.50px;top:1090.60px;font-family:'Liberation Sans',sans-serif;font-size:10.6px;color:#30261f;transform:scaleX(0.9515);">limitó la tendencia propiciada</span>
<span class="t" style="left:299.50px;top:1103.50px;font-family:'Liberation Sans',sans-serif;font-size:10.6px;color:#30261f;transform:scaleX(0.9199);">desde el tercer mes del 2025.</span>
<span class="t" style="left:412.20px;top:1119.30px;font-family:'Liberation Sans',sans-serif;font-size:6.5px;color:#8a8079;transform:scaleX(0.8362);">PÁG.</span>
<span class="t" style="left:428.20px;top:1115.30px;font-family:'Liberation Sans',sans-serif;font-size:11.5px;color:#5d544e;transform:scaleX(0.8987);">30</span>
<span class="t" style="left:451.70px;top:962.70px;font-family:'Liberation Sans',sans-serif;font-size:10.5px;color:#17a2c6;font-weight:700;-webkit-text-stroke:0.3px #17a2c6;transform:scaleX(1.0784);">México</span>
<span class="t" style="left:494.00px;top:962.70px;font-family:'Liberation Sans',sans-serif;font-size:10.5px;color:#5d544e;transform:scaleX(0.5851);">|</span>
<span class="t" style="left:451.70px;top:975.50px;font-family:'Liberation Sans',sans-serif;font-size:10.5px;color:#1f1612;font-weight:700;-webkit-text-stroke:0.3px #1f1612;transform:scaleX(1.0352);">Producción</span>
<span class="t" style="left:451.70px;top:988.00px;font-family:'Liberation Sans',sans-serif;font-size:10.5px;color:#1f1612;font-weight:700;-webkit-text-stroke:0.3px #1f1612;transform:scaleX(1.0436);">de</span>
<span class="t" style="left:451.70px;top:1001.10px;font-family:'Liberation Sans',sans-serif;font-size:10.5px;color:#1f1612;font-weight:700;-webkit-text-stroke:0.3px #1f1612;transform:scaleX(1.1045);">autopartes</span>
<span class="t" style="left:451.70px;top:1017.70px;font-family:'Liberation Sans',sans-serif;font-size:8px;color:#8a8079;transform:scaleX(0.9433);">| MILLONES DE</span>
<span class="t" style="left:451.70px;top:1030.10px;font-family:'Liberation Sans',sans-serif;font-size:8px;color:#8a8079;transform:scaleX(0.9324);">DÓLARES /</span>
<span class="t" style="left:451.70px;top:1043.00px;font-family:'Liberation Sans',sans-serif;font-size:8px;color:#8a8079;transform:scaleX(0.9767);">AGOSTO</span>
<span class="t" style="left:451.70px;top:1121.50px;font-family:'Liberation Sans',sans-serif;font-size:6.8px;color:#6d645e;transform:scaleX(0.9221);">FUENTE: INA</span>
<span class="t" style="left:523.20px;top:967.60px;font-family:'Liberation Sans',sans-serif;font-size:8.8px;color:#3a2f29;transform:scaleX(0.7049);">2019</span>
<span class="t" style="left:707.20px;top:966.30px;font-family:'Liberation Sans',sans-serif;font-size:10.5px;color:#3a2f29;transform:scaleX(0.7648);">8,097</span>
<span class="t" style="left:523.20px;top:991.00px;font-family:'Liberation Sans',sans-serif;font-size:8.8px;color:#3a2f29;transform:scaleX(0.7049);">2020</span>
<span class="t" style="left:693.60px;top:989.70px;font-family:'Liberation Sans',sans-serif;font-size:10.5px;color:#3a2f29;transform:scaleX(0.7534);">7,307</span>
<span class="t" style="left:523.20px;top:1015.00px;font-family:'Liberation Sans',sans-serif;font-size:8.8px;color:#3a2f29;transform:scaleX(0.7049);">2021</span>
<span class="t" style="left:705.70px;top:1013.70px;font-family:'Liberation Sans',sans-serif;font-size:10.5px;color:#3a2f29;transform:scaleX(0.7382);">7,985</span>
<span class="t" style="left:523.20px;top:1038.80px;font-family:'Liberation Sans',sans-serif;font-size:8.8px;color:#3a2f29;transform:scaleX(0.7049);">2022</span>
<span class="t" style="left:729.70px;top:1037.50px;font-family:'Liberation Sans',sans-serif;font-size:10.5px;color:#3a2f29;transform:scaleX(0.7648);">9,388</span>
<span class="t" style="left:523.20px;top:1062.80px;font-family:'Liberation Sans',sans-serif;font-size:8.8px;color:#3a2f29;transform:scaleX(0.7049);">2023</span>
<span class="t" style="left:752.20px;top:1061.50px;font-family:'Liberation Sans',sans-serif;font-size:10.5px;color:#3a2f29;transform:scaleX(0.7595);">10,682</span>
<span class="t" style="left:523.20px;top:1086.90px;font-family:'Liberation Sans',sans-serif;font-size:8.8px;color:#3a2f29;transform:scaleX(0.7049);">2024</span>
<span class="t" style="left:743.60px;top:1085.60px;font-family:'Liberation Sans',sans-serif;font-size:10.5px;color:#3a2f29;transform:scaleX(0.7502);">10,191</span>
<span class="t" style="left:523.20px;top:1110.60px;font-family:'Liberation Sans',sans-serif;font-size:8.8px;color:#3a2f29;transform:scaleX(0.7049);">2025</span>
<span class="t" style="left:744.20px;top:1108.30px;font-family:'Liberation Sans',sans-serif;font-size:13.5px;color:#1f1612;font-weight:700;transform:scaleX(0.8281);">10,189</span>
<span class="t" style="left:808.00px;top:214.40px;font-family:'Liberation Serif',serif;font-size:11.5px;color:#1f1612;font-weight:700;transform:scaleX(1.0711);">Empresas</span>
<span class="t" style="left:804.20px;top:227.40px;font-family:'Liberation Sans',sans-serif;font-size:10px;color:#f1e6b8;transform:scaleX(1.1078);">y Negocios</span>
<span class="t" style="left:802.70px;top:252.70px;font-family:'Liberation Sans',sans-serif;font-size:13.8px;color:#2c231e;transform:scaleX(1.0431);">México aplica</span>
<span class="t" style="left:802.70px;top:270.80px;font-family:'Liberation Sans',sans-serif;font-size:13.8px;color:#2c231e;">arancel desde</span>
<span class="t" style="left:802.70px;top:288.60px;font-family:'Liberation Sans',sans-serif;font-size:13.8px;color:#2c231e;transform:scaleX(1.0358);">hoy al azúcar</span>
<span class="t" style="left:802.70px;top:305.80px;font-family:'Liberation Sans',sans-serif;font-size:13.8px;color:#2c231e;transform:scaleX(1.0284);">importada</span>
<span class="t" style="left:802.70px;top:326.70px;font-family:'Liberation Sans',sans-serif;font-size:10.6px;color:#30261f;transform:scaleX(0.9688);">• La tarifa, a países de</span>
<span class="t" style="left:802.70px;top:339.60px;font-family:'Liberation Sans',sans-serif;font-size:10.6px;color:#30261f;transform:scaleX(0.9836);">la OMC, excepto con</span>
<span class="t" style="left:802.70px;top:352.60px;font-family:'Liberation Sans',sans-serif;font-size:10.6px;color:#30261f;transform:scaleX(0.9526);">los que hay acuerdo.</span>
<span class="t" style="left:880.20px;top:368.00px;font-family:'Liberation Sans',sans-serif;font-size:6.5px;color:#8a8079;transform:scaleX(0.8362);">PÁG.</span>
<span class="t" style="left:896.20px;top:364.00px;font-family:'Liberation Sans',sans-serif;font-size:11.5px;color:#5d544e;transform:scaleX(0.8830);">29</span>
<span class="t" style="left:803.40px;top:376.50px;font-family:'Liberation Serif',serif;font-size:40px;color:#17a2c6;font-weight:700;-webkit-text-stroke:0.7px #17a2c6;transform:scaleX(0.8800);">210%</span>
<span class="t" style="left:802.70px;top:415.30px;font-family:'Liberation Sans',sans-serif;font-size:10.6px;color:#30261f;transform:scaleX(0.9531);">es el arancel máximo</span>
<span class="t" style="left:802.70px;top:428.20px;font-family:'Liberation Sans',sans-serif;font-size:10.6px;color:#30261f;transform:scaleX(0.9896);">que aplica México al</span>
<span class="t" style="left:802.70px;top:441.30px;font-family:'Liberation Sans',sans-serif;font-size:10.6px;color:#30261f;transform:scaleX(0.9682);">azúcar importada.</span>
<span class="t" style="left:802.70px;top:471.50px;font-family:'Liberation Sans',sans-serif;font-size:13.8px;color:#2c231e;transform:scaleX(1.0383);">Arranca la</span>
<span class="t" style="left:802.70px;top:489.30px;font-family:'Liberation Sans',sans-serif;font-size:13.8px;color:#2c231e;transform:scaleX(1.0278);">COP30 en la</span>
<span class="t" style="left:802.70px;top:506.90px;font-family:'Liberation Sans',sans-serif;font-size:13.8px;color:#2c231e;transform:scaleX(1.0212);">Amazonia, con</span>
<span class="t" style="left:802.70px;top:524.30px;font-family:'Liberation Sans',sans-serif;font-size:13.8px;color:#2c231e;transform:scaleX(0.9792);">ausencia de EU</span>
<span class="t" style="left:802.70px;top:546.40px;font-family:'Liberation Sans',sans-serif;font-size:10.6px;color:#30261f;transform:scaleX(0.9674);">• Se intenta ocultar</span>
<span class="t" style="left:802.70px;top:559.00px;font-family:'Liberation Sans',sans-serif;font-size:10.6px;color:#30261f;transform:scaleX(0.9522);">los riesgos del cambio</span>
<span class="t" style="left:802.70px;top:571.90px;font-family:'Liberation Sans',sans-serif;font-size:10.6px;color:#30261f;transform:scaleX(0.9497);">climático, dijo Lula.</span>
<span class="t" style="left:879.80px;top:587.40px;font-family:'Liberation Sans',sans-serif;font-size:6.5px;color:#8a8079;transform:scaleX(0.8362);">PÁG.</span>
<span class="t" style="left:895.80px;top:583.40px;font-family:'Liberation Sans',sans-serif;font-size:11.5px;color:#5d544e;transform:scaleX(0.8830);">48</span>
<span class="t" style="left:803.60px;top:594.50px;font-family:'Liberation Serif',serif;font-size:56px;color:#fde7cd;font-weight:700;transform:scaleX(0.8393);">“</span>
<span class="t" style="left:833.00px;top:598.40px;font-family:'Liberation Serif',serif;font-size:9.6px;color:#17a2c6;font-weight:700;-webkit-text-stroke:0.2px #17a2c6;transform:scaleX(0.9038);">Es más barato</span>
<span class="t" style="left:833.00px;top:610.80px;font-family:'Liberation Serif',serif;font-size:9.6px;color:#17a2c6;font-weight:700;-webkit-text-stroke:0.2px #17a2c6;transform:scaleX(0.9453);">luchar contra el</span>
<span class="t" style="left:833.00px;top:622.30px;font-family:'Liberation Serif',serif;font-size:9.6px;color:#17a2c6;font-weight:700;-webkit-text-stroke:0.2px #17a2c6;transform:scaleX(0.9634);">cambio climático</span>
<span class="t" style="left:802.20px;top:633.80px;font-family:'Liberation Serif',serif;font-size:9.6px;color:#17a2c6;font-weight:700;-webkit-text-stroke:0.2px #17a2c6;transform:scaleX(0.9408);">que hacer una guerra”.</span>
<span class="t" style="left:813.70px;top:654.50px;font-family:'Liberation Sans',sans-serif;font-size:9px;color:#1f1612;font-weight:700;transform:scaleX(0.8767);">Luiz Inácio Lula da Silva,</span>
<span class="t" style="left:851.10px;top:669.20px;font-family:'Liberation Sans',sans-serif;font-size:6px;color:#6d645e;transform:scaleX(0.7668);">PRESIDENTE DE BRASIL.</span>
<span class="t" style="left:804.50px;top:696.50px;font-family:'Liberation Serif',serif;font-size:30px;color:#1d1512;font-weight:700;-webkit-text-stroke:0.4px #1d1512;transform:scaleX(0.9243);">T</span>
<span class="t" style="left:823.50px;top:696.50px;font-family:'Liberation Serif',serif;font-size:30px;color:#fbe9d0;font-weight:700;-webkit-text-stroke:0.4px #fbe9d0;transform:scaleX(0.7494);">E</span>
<span class="t" style="left:805.00px;top:723.00px;font-family:'Liberation Serif',serif;font-size:4.5px;color:#3a2410;font-weight:700;transform:scaleX(1.3333);">Termómetro</span>
<span class="t" style="left:812.00px;top:728.00px;font-family:'Liberation Sans',sans-serif;font-size:3.2px;color:#fbe9d0;font-weight:700;transform:scaleX(1.0473);">Económico</span>
<span class="t" style="left:802.70px;top:741.40px;font-family:'Liberation Sans',sans-serif;font-size:13.8px;color:#2c231e;transform:scaleX(0.9899);">El oro repunta</span>
<span class="t" style="left:802.70px;top:759.20px;font-family:'Liberation Sans',sans-serif;font-size:13.8px;color:#2c231e;transform:scaleX(0.9877);">de nuevo hasta</span>
<span class="t" style="left:802.70px;top:776.90px;font-family:'Liberation Sans',sans-serif;font-size:13.8px;color:#2c231e;transform:scaleX(1.0049);">4,116 dólares</span>
<span class="t" style="left:802.70px;top:794.20px;font-family:'Liberation Sans',sans-serif;font-size:13.8px;color:#2c231e;transform:scaleX(1.0372);">por onza</span>
<span class="t" style="left:802.70px;top:815.80px;font-family:'Liberation Sans',sans-serif;font-size:10.6px;color:#30261f;transform:scaleX(0.9348);">• Inversionistas apues-</span>
<span class="t" style="left:802.70px;top:828.60px;font-family:'Liberation Sans',sans-serif;font-size:10.6px;color:#30261f;transform:scaleX(0.9561);">tan a recorte de la tasa</span>
<span class="t" style="left:802.70px;top:841.40px;font-family:'Liberation Sans',sans-serif;font-size:10.6px;color:#30261f;transform:scaleX(0.9237);">de la Reserva Federal.</span>
<span class="t" style="left:879.80px;top:856.40px;font-family:'Liberation Sans',sans-serif;font-size:6.5px;color:#8a8079;transform:scaleX(0.8362);">PÁG.</span>
<span class="t" style="left:895.80px;top:852.40px;font-family:'Liberation Sans',sans-serif;font-size:11.5px;color:#5d544e;transform:scaleX(0.8830);">22</span>
<span class="t" style="left:803.40px;top:865.80px;font-family:'Liberation Serif',serif;font-size:40.5px;color:#17a2c6;font-weight:700;-webkit-text-stroke:0.7px #17a2c6;transform:scaleX(0.9657);">56.87</span>
<span class="t" style="left:802.70px;top:904.00px;font-family:'Liberation Sans',sans-serif;font-size:10.6px;color:#30261f;transform:scaleX(0.9652);">por ciento ha subido</span>
<span class="t" style="left:802.70px;top:917.00px;font-family:'Liberation Sans',sans-serif;font-size:10.6px;color:#30261f;transform:scaleX(0.9694);">el precio del oro en lo</span>
<span class="t" style="left:802.70px;top:929.80px;font-family:'Liberation Sans',sans-serif;font-size:10.6px;color:#30261f;transform:scaleX(0.9468);">que va del año.</span>
<span class="t" style="left:813.70px;top:966.80px;font-family:'Liberation Serif',serif;font-size:11.5px;color:#1f1612;font-weight:700;transform:scaleX(1.0364);">Finanzas</span>
<span class="t" style="left:818.60px;top:979.80px;font-family:'Liberation Sans',sans-serif;font-size:10px;color:#fde9d6;transform:scaleX(1.0337);">Globales</span>
<span class="t" style="left:802.70px;top:1005.30px;font-family:'Liberation Sans',sans-serif;font-size:13.8px;color:#2c231e;transform:scaleX(0.9768);">Divergencias</span>
<span class="t" style="left:802.70px;top:1023.10px;font-family:'Liberation Sans',sans-serif;font-size:13.8px;color:#2c231e;transform:scaleX(0.9723);">entre miembros</span>
<span class="t" style="left:802.70px;top:1040.70px;font-family:'Liberation Sans',sans-serif;font-size:13.8px;color:#2c231e;">de la Fed sobre</span>
<span class="t" style="left:802.70px;top:1057.60px;font-family:'Liberation Sans',sans-serif;font-size:13.8px;color:#2c231e;transform:scaleX(1.0033);">posible recorte</span>
<span class="t" style="left:802.70px;top:1079.70px;font-family:'Liberation Sans',sans-serif;font-size:10.6px;color:#30261f;transform:scaleX(0.9510);">• Esperan nuevos da-</span>
<span class="t" style="left:802.70px;top:1092.50px;font-family:'Liberation Sans',sans-serif;font-size:10.6px;color:#30261f;transform:scaleX(0.9398);">tos para confirmar sus</span>
<span class="t" style="left:802.70px;top:1105.50px;font-family:'Liberation Sans',sans-serif;font-size:10.6px;color:#30261f;transform:scaleX(0.9100);">respectivas posturas.</span>
<span class="t" style="left:879.80px;top:1121.50px;font-family:'Liberation Sans',sans-serif;font-size:6.5px;color:#8a8079;transform:scaleX(0.8362);">PÁG.</span>
<span class="t" style="left:895.80px;top:1117.50px;font-family:'Liberation Sans',sans-serif;font-size:11.5px;color:#5d544e;transform:scaleX(0.8830);">38</span>
<span class="t" style="left:82.60px;top:214.40px;font-family:'Liberation Sans',sans-serif;font-size:29.5px;color:#149fc6;font-weight:700;font-style:italic;-webkit-text-stroke:1.7px #149fc6;transform:scaleX(0.9666);">D</span>
<span class="t" style="left:107.60px;top:216.00px;font-family:'Liberation Sans',sans-serif;font-size:25.5px;color:#1c4f70;font-style:italic;-webkit-text-stroke:0.5px #1c4f70;transform:scaleX(0.8815);">X</span>
<span class="t" style="left:128.20px;top:214.40px;font-family:'Liberation Sans',sans-serif;font-size:29.5px;color:#149fc6;font-weight:700;font-style:italic;-webkit-text-stroke:1.7px #149fc6;transform:scaleX(1.0870);">T</span>

</body></html>
